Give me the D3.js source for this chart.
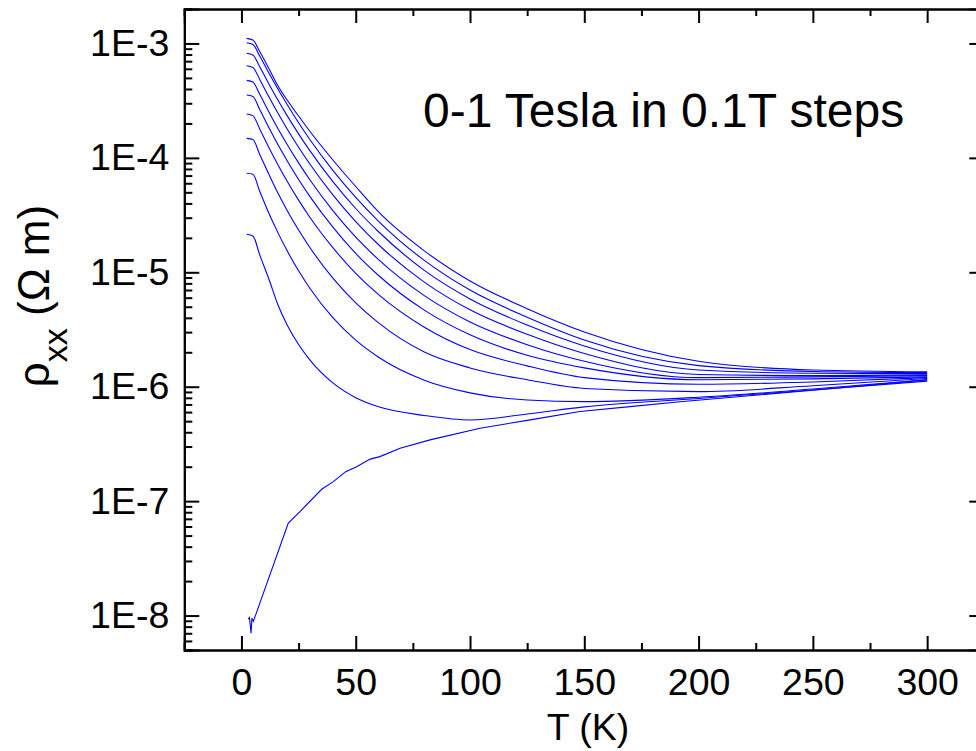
<!DOCTYPE html>
<html>
<head>
<meta charset="utf-8">
<script src="https://cdn.jsdelivr.net/npm/d3@7"></script>
<style>
  html, body { margin: 0; padding: 0; background: #fff; overflow: hidden; }
  svg { display: block; font-family: "Liberation Sans", Arial, sans-serif; }
</style>
</head>
<body>
<svg id="chart" width="976" height="751"></svg>
<script>
// ---- Data (T in K, rho_xx in Ohm m) ----
const T_FIELD = [2.3, 5, 8, 12, 16, 20, 25, 30, 40, 50, 60, 80, 100, 125, 150, 200, 250, 300];

const rho_1_0T = [1.108e-3, 1.071e-3, 8.50e-4, 6.04e-4, 4.25e-4, 3.20e-4, 2.32e-4, 1.70e-4, 9.58e-5, 5.62e-5, 3.37e-5, 1.54e-5, 8.40e-6, 4.81e-6, 3.01e-6, 1.67e-6, 1.40e-6, 1.35e-6];
const rho_0_9T = [1.014e-3, 9.78e-4, 7.76e-4, 5.51e-4, 3.98e-4, 2.93e-4, 2.03e-4, 1.44e-4, 7.77e-5, 4.51e-5, 2.79e-5, 1.27e-5, 6.99e-6, 4.05e-6, 2.56e-6, 1.53e-6, 1.36e-6, 1.33e-6];
const rho_0_8T = [8.20e-4, 7.92e-4, 6.25e-4, 4.43e-4, 3.19e-4, 2.34e-4, 1.62e-4, 1.15e-4, 6.20e-5, 3.61e-5, 2.26e-5, 1.04e-5, 5.85e-6, 3.46e-6, 2.27e-6, 1.40e-6, 1.31e-6, 1.30e-6];
const rho_0_7T = [6.39e-4, 6.16e-4, 4.85e-4, 3.42e-4, 2.45e-4, 1.79e-4, 1.24e-4, 8.80e-5, 4.75e-5, 2.77e-5, 1.74e-5, 8.21e-6, 4.70e-6, 2.87e-6, 1.95e-6, 1.28e-6, 1.25e-6, 1.27e-6];
const rho_0_6T = [4.76e-4, 4.60e-4, 3.59e-4, 2.52e-4, 1.80e-4, 1.31e-4, 9.04e-5, 6.41e-5, 3.46e-5, 2.03e-5, 1.29e-5, 6.25e-6, 3.68e-6, 2.33e-6, 1.67e-6, 1.20e-6, 1.22e-6, 1.25e-6];
const rho_0_5T = [3.54e-4, 3.44e-4, 2.65e-4, 1.84e-4, 1.30e-4, 9.45e-5, 6.48e-5, 4.59e-5, 2.48e-5, 1.46e-5, 9.38e-6, 4.67e-6, 2.84e-6, 1.88e-6, 1.46e-6, 1.15e-6, 1.17e-6, 1.22e-6];
const rho_0_4T = [2.42e-4, 2.34e-4, 1.79e-4, 1.23e-4, 8.66e-5, 6.24e-5, 4.27e-5, 3.01e-5, 1.64e-5, 9.78e-6, 6.37e-6, 3.31e-6, 2.11e-6, 1.52e-6, 1.20e-6, 1.05e-6, 1.10e-6, 1.20e-6];
const rho_0_3T = [1.48e-4, 1.45e-4, 1.07e-4, 7.19e-5, 4.90e-5, 3.47e-5, 2.34e-5, 1.64e-5, 8.88e-6, 5.40e-6, 3.61e-6, 2.01e-6, 1.46e-6, 1.15e-6, 9.66e-7, 9.05e-7, 1.02e-6, 1.18e-6];
const rho_0_2T = [7.33e-5, 7.20e-5, 5.10e-5, 3.28e-5, 2.21e-5, 1.54e-5, 1.03e-5, 7.22e-6, 4.01e-6, 2.55e-6, 1.81e-6, 1.14e-6, 8.84e-7, 7.65e-7, 7.41e-7, 8.09e-7, 9.55e-7, 1.15e-6];
const rho_0_1T = [2.15e-5, 2.08e-5, 1.42e-5, 8.74e-6, 5.18e-6, 3.47e-6, 2.34e-6, 1.71e-6, 1.08e-6, 8.02e-7, 6.68e-7, 5.61e-7, 5.12e-7, 5.78e-7, 6.66e-7, 7.90e-7, 9.37e-7, 1.12e-6];

const T_ZERO = [3.0, 3.5, 4.2, 4.6, 5.2, 5.8, 20.5, 25.6, 35.1, 40.2, 45.6, 50.4, 56.3, 60.6, 69.4, 82.5, 104.4, 126.3, 148.1, 170, 191.9, 250, 300];
const rho_0T = [9.3e-9, 9.6e-9, 7.0e-9, 9.5e-9, 8.9e-9, 9.6e-9, 6.43e-8, 8.1e-8, 1.27e-7, 1.48e-7, 1.81e-7, 2.0e-7, 2.33e-7, 2.45e-7, 2.9e-7, 3.43e-7, 4.34e-7, 5.13e-7, 6.07e-7, 6.7e-7, 7.4e-7, 9.3e-7, 1.147e-6];

const FIELD_SERIES = [rho_0_1T, rho_0_2T, rho_0_3T, rho_0_4T, rho_0_5T, rho_0_6T, rho_0_7T, rho_0_8T, rho_0_9T, rho_1_0T];

const X_TICKS = [0, 50, 100, 150, 200, 250, 300];
const X_MINOR = [-25, 25, 75, 125, 175, 225, 275, 325];
const Y_TICKS = [1e-8, 1e-7, 1e-6, 1e-5, 1e-4, 1e-3];

const ANNOTATION = "0-1 Tesla in 0.1T steps";
const X_TITLE = "T (K)";

// ---- Layout ----
const L = 184.3, R = 984.3, TOP = 9, BOT = 650;
const svg = d3.select("#chart");

const x = d3.scaleLinear().domain([-25, 325]).range([L, R]);
const y = d3.scaleLog().domain([5e-9, 2e-3]).range([BOT, TOP]);

// minor log ticks
const yMinor = [];
for (let e = -9; e <= -3; e++) {
  for (let m = 2; m <= 9; m++) {
    const v = m * Math.pow(10, e);
    if (v >= 5e-9 * 0.999 && v <= 2e-3 * 1.001) yMinor.push(v);
  }
}

const FS = 37.5;
const fmtY = d => "1E" + Math.round(Math.log10(d));

function styleAxis(g) {
  g.selectAll("path.domain").attr("stroke", "#000").attr("stroke-width", 2);
  g.selectAll(".tick line").attr("stroke", "#000").attr("stroke-width", 2);
  g.selectAll(".tick text").attr("fill", "#000").style("font-size", FS + "px")
    .style("font-family", '"Liberation Sans", Arial, sans-serif');
}

// Bottom axis
const gB = svg.append("g").attr("transform", `translate(0,${BOT})`)
  .call(d3.axisBottom(x).tickValues(X_TICKS).tickSize(-14).tickPadding(18).tickFormat(d3.format("d")));
styleAxis(gB);
const gBm = svg.append("g").attr("transform", `translate(0,${BOT})`)
  .call(d3.axisBottom(x).tickValues(X_MINOR).tickSize(-7).tickFormat(""));
styleAxis(gBm);

// Top axis
const gT = svg.append("g").attr("transform", `translate(0,${TOP})`)
  .call(d3.axisTop(x).tickValues(X_TICKS).tickSize(-14).tickFormat(""));
styleAxis(gT);
const gTm = svg.append("g").attr("transform", `translate(0,${TOP})`)
  .call(d3.axisTop(x).tickValues(X_MINOR).tickSize(-7).tickFormat(""));
styleAxis(gTm);

// Left axis
const gL = svg.append("g").attr("transform", `translate(${L},0)`)
  .call(d3.axisLeft(y).tickValues(Y_TICKS).tickSize(-15).tickPadding(15).tickFormat(fmtY));
styleAxis(gL);
const gLm = svg.append("g").attr("transform", `translate(${L},0)`)
  .call(d3.axisLeft(y).tickValues(yMinor).tickSize(-8).tickFormat(""));
styleAxis(gLm);

// Right axis
const gR = svg.append("g").attr("transform", `translate(${R},0)`)
  .call(d3.axisRight(y).tickValues(Y_TICKS).tickSize(-15).tickFormat(""));
styleAxis(gR);
const gRm = svg.append("g").attr("transform", `translate(${R},0)`)
  .call(d3.axisRight(y).tickValues(yMinor).tickSize(-8).tickFormat(""));
styleAxis(gRm);

// ---- Curves ----
const plot = svg.append("g");
const lineSmooth = d3.line().x(d => x(d[0])).y(d => y(d[1])).curve(d3.curveMonotoneX);
const lineRaw = d3.line().x(d => x(d[0])).y(d => y(d[1]));

FIELD_SERIES.forEach(s => {
  plot.append("path")
    .datum(T_FIELD.map((t, i) => [t, s[i]]))
    .attr("fill", "none").attr("stroke", "#0000ff").attr("stroke-width", 1.1)
    .attr("d", lineSmooth);
});
plot.append("path")
  .datum(T_ZERO.map((t, i) => [t, rho_0T[i]]))
  .attr("fill", "none").attr("stroke", "#0000ff").attr("stroke-width", 1.1)
  .attr("d", lineRaw);

// ---- Texts ----
svg.append("text").attr("x", 423).attr("y", 127)
  .style("font-size", "48px").attr("fill", "#000").text(ANNOTATION);

svg.append("text").attr("x", 588).attr("y", 740).attr("text-anchor", "middle")
  .style("font-size", FS + "px").attr("fill", "#000").text(X_TITLE);

const yt = svg.append("text")
  .attr("transform", "translate(49,296) rotate(-90)")
  .attr("text-anchor", "middle").attr("fill", "#000")
  .style("font-size", "44px");
yt.append("tspan").text("ρ");
yt.append("tspan").attr("dy", 18).style("font-size", "34px").text("xx");
yt.append("tspan").attr("dy", -18).text(" (Ω m)");
</script>
</body>
</html>
